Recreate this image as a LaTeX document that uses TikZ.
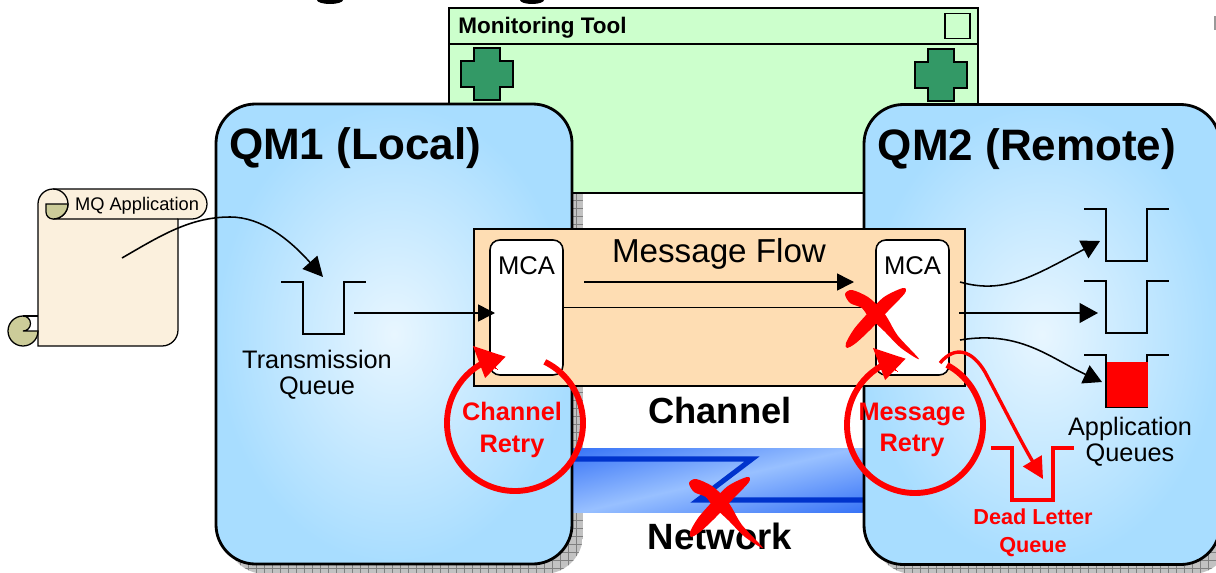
\documentclass[tikz,border=0pt]{standalone}
\usepackage{fontspec}
\setmainfont{Liberation Sans}
\usepackage{tikz}
\usetikzlibrary{arrows.meta}

\definecolor{qmblue}{HTML}{A8DDFF}
\definecolor{qmlight}{HTML}{E8F6FF}
\definecolor{toolgreen}{HTML}{CCFFCC}
\definecolor{crossgreen}{HTML}{339966}
\definecolor{peach}{HTML}{FEDDB3}
\definecolor{scrollfill}{HTML}{FBF0DD}
\definecolor{scrollcurl}{HTML}{CCCC99}
\definecolor{netdark}{HTML}{1F60F5}
\definecolor{netlight}{HTML}{98C0FF}
\definecolor{netline}{HTML}{0033CC}

\begin{document}
\begin{tikzpicture}[x=0.025cm,y=-0.025cm,
    qmbox/.style={rectangle,draw,line width=2pt,rounded corners=28pt,minimum width=356*0.025cm,minimum height=460*0.025cm,inner sep=0pt,inner color=qmlight,outer color=qmblue},
    mcabox/.style={rectangle,draw,line width=1.1pt,fill=white,rounded corners=7pt,minimum width=73*0.025cm,minimum height=135*0.025cm,inner sep=0pt},
    plus/.style={draw,line width=0.8pt,fill=crossgreen},
    queue/.style={draw,line width=1.1pt},
    flow/.style={draw,line width=1.1pt,-{Triangle[length=12pt,width=12pt]}},
    bigflow/.style={draw,line width=1.1pt,-{Triangle[length=13pt,width=14pt]}},
    retry/.style={draw=red,line width=4.2pt},
    retryhead/.style={draw=red,line width=0pt,-{Triangle[length=22pt,width=21pt,fill=red]}},
    label/.style={inner sep=0pt,align=center}]

    \useasboundingbox (0,0) rectangle (1216,572);

    % Title remains
    \fill (330,0) ellipse (13 and 4);
    \fill (532,0) ellipse (12 and 4);
    \fill[black!40] (1214,16) rectangle (1216,30);

    % Shadows
    \foreach \x in {226,874} {
        \begin{scope}
            \clip[rounded corners=28pt] (\x,114) rectangle ++(357,460);
            \fill[black!24] (\x,114) rectangle ++(357,460);
            \draw[black!50,line width=0.4pt,step=0.2cm] (\x,114) grid ++(357,460);
        \end{scope}
    }

    % Monitoring tool
    \node[rectangle,draw,line width=1.8pt,fill=toolgreen,minimum width=529*0.025cm,minimum height=185*0.025cm,inner sep=0pt] (tool) at (713.5,100.5) {};
    \node[rectangle,draw,line width=0.8pt,minimum width=25*0.025cm,minimum height=25*0.025cm,inner sep=0pt] (toolbtn) at (957.5,26) {};
    \coordinate (toolL) at (449,44);
    \coordinate (toolR) at (978,44);
    \draw[line width=1.1pt] (toolL) -- (toolR);
    \node[label,font=\bfseries\fontsize{16}{20}\selectfont] (toolname) at (542.5,28) {Monitoring Tool};
    \foreach \x/\y in {461/48,915/49}
        \draw[plus] (\x+13,\y) -- ++(26,0) -- ++(0,13) -- ++(13,0) -- ++(0,26) -- ++(-13,0) -- ++(0,13) -- ++(-26,0) -- ++(0,-13) -- ++(-13,0) -- ++(0,-26) -- ++(13,0) -- cycle;

    % Network band
    \begin{scope}
        \clip (572,448) rectangle (864,512);
        \shade[transform canvas={rotate around={13:(718,480)}},top color=netdark,bottom color=netdark,middle color=netlight] (318,400) rectangle (1118,560);
    \end{scope}
    \coordinate (netA) at (572,459);
    \coordinate (netB) at (752,459);
    \coordinate (netC) at (698,500);
    \coordinate (netD) at (864,500);
    \draw[netline,line width=3.6pt] (netA) -- (netB) -- (netC) -- (netD);
    \node[label,font=\bfseries\fontsize{26}{30}\selectfont] (network) at (720,536) {Network};

    % Queue managers
    \node[qmbox] (qmL) at (394,334) {};
    \node[qmbox] (qmR) at (1042,334.5) {};
    \node[label,font=\bfseries\fontsize{31.3}{36}\selectfont] (qmLname) at (355,148) {QM1 (Local)};
    \node[label,font=\bfseries\fontsize{31.3}{36}\selectfont] (qmRname) at (1027,149) {QM2 (Remote)};

    % Scroll
    \draw[line width=0.9pt,fill=scrollfill] (53,189) -- (192,189) arc[start angle=-90,end angle=90,radius=15] -- (178,219) -- (178,330) arc[start angle=0,end angle=90,radius=16] -- (38,346) -- (38,204) arc[start angle=180,end angle=270,radius=15] -- cycle;
    \draw[line width=0.9pt] (53,189) arc[start angle=-90,end angle=90,radius=15] -- (178,219);
    \draw[line width=0.9pt,fill=scrollcurl] (68,204) arc[start angle=0,end angle=90,radius=15] arc[start angle=90,end angle=180,radius=7] -- (46,204) -- cycle;
    \draw[line width=0.9pt,fill=scrollcurl] (38,331) arc[start angle=0,end angle=270,radius=15] arc[start angle=-90,end angle=90,radius=7.5] -- cycle;
    \draw[line width=0.9pt] (23,316) -- (38,316);
    \node[label,font=\fontsize{13}{16}\selectfont] (mqapp) at (137,206) {MQ Application};

    % Channel
    \node[rectangle,draw,line width=1.8pt,fill=peach,minimum width=491*0.025cm,minimum height=157*0.025cm,inner sep=0pt] (channel) at (719.5,307.5) {};
    \node[mcabox] (mcaL) at (526.5,307.5) {};
    \node[mcabox] (mcaR) at (912.5,307.5) {};
    \node[label,font=\fontsize{18.2}{22}\selectfont] (mcaLname) at (526.5,266) {MCA};
    \node[label,font=\fontsize{18.2}{22}\selectfont] (mcaRname) at (912.5,266) {MCA};
    \node[label,font=\fontsize{23.6}{28}\selectfont] (flowname) at (719,254) {Message Flow};
    \node[label,font=\bfseries\fontsize{25.8}{30}\selectfont] (chname) at (720,411) {Channel};

    % Queues
    \coordinate (qTx) at (281,282);
    \coordinate (qA) at (1084,209);
    \coordinate (qB) at (1084,281);
    \coordinate (qC) at (1084,355);
    \foreach \q in {qTx,qA,qB,qC}
        \draw[queue] (\q) -- ++(22,0) -- ++(0,52) -- ++(41,0) -- ++(0,-52) -- ++(22,0);
    \node[rectangle,fill=red,minimum width=41*0.025cm,minimum height=45*0.025cm,inner sep=0pt] (qCfill) at (1127.5,384.5) {};
    \node[label,font=\fontsize{18}{18.7}\selectfont] (txname) at (317,375) {Transmission\\Queue};
    \node[label,font=\fontsize{18}{18.7}\selectfont] (appname) at (1130,442) {Application\\Queues};

    % Dead letter queue
    \coordinate (qDead) at (991,448);
    \draw[draw=red,line width=2.4pt] (qDead) -- ++(21,0) -- ++(0,52) -- ++(41,0) -- ++(0,-52) -- ++(21,0);
    \node[label,text=red,font=\bfseries\fontsize{15.4}{20}\selectfont] (deadname) at (1033,533) {Dead Letter\\Queue};

    % Flows
    \coordinate (appStart) at (122,258);
    \coordinate (appTop) at (230,217);
    \coordinate (txIn) at (323,277);
    \coordinate (txOut) at (354,313);
    \coordinate (mcaLin) at (495,313);
    \coordinate (flowA) at (584,282);
    \coordinate (flowB) at (854,282);
    \coordinate (outA) at (960,282);
    \coordinate (inA) at (1100,241);
    \coordinate (outB) at (959,313);
    \coordinate (inB) at (1098,313);
    \coordinate (outC) at (960,340);
    \coordinate (inC) at (1102,382);
    \draw[flow,-{Triangle[length=14pt,width=14pt]}] (appStart) .. controls (160,236) and (190,217) .. (appTop) .. controls (262,217) and (290,240) .. (txIn);
    \draw[flow] (txOut) -- (mcaLin);
    \draw[flow] (flowA) -- (flowB);
    \draw[line width=0.8pt] (mcaL.east) -- (mcaR.west);
    \draw[bigflow] (outA) .. controls (1005,295) and (1035,275) .. (inA);
    \draw[bigflow] (outB) -- (inB);
    \draw[bigflow] (outC) .. controls (1020,330) and (1050,358) .. (inC);

    % Retries
    \coordinate (chCentre) at (515,423);
    \coordinate (msgCentre) at (915,425);
    \draw[retry] (chCentre) ++(-64:68) arc[start angle=-64,end angle=242,radius=68];
    \draw[retry] (msgCentre) ++(-62:68) arc[start angle=-62,end angle=244,radius=68];
    \coordinate (chBase) at (497,369);
    \coordinate (chTip) at (473,346);
    \coordinate (msgBase) at (897,371);
    \coordinate (msgTip) at (873,348);
    \draw[retryhead] (chBase) -- (chTip);
    \draw[retryhead] (msgBase) -- (msgTip);
    \coordinate (deadOut) at (940,363);
    \coordinate (deadIn) at (1043,479);
    \draw[draw=red,line width=2.4pt,-{Triangle[length=15pt,width=15pt,fill=red]}] (deadOut) .. controls (955,345) and (972,350) .. (985,372) .. controls (1000,400) and (1020,440) .. (deadIn);
    \node[label,text=red,font=\bfseries\fontsize{18}{22.5}\selectfont] (chretry) at (512,430) {Channel\\Retry};
    \node[label,text=red,font=\bfseries\fontsize{18}{22.5}\selectfont] (msgretry) at (912,430) {Message\\Retry};

    % Crosses
    \foreach \x/\y in {720/510,876/321}
        \fill[red,shift={(\x*0.025cm,-\y*0.025cm)}]
            plot[smooth cycle,tension=0.5] coordinates {(-31,-27) (-24,-31) (-8,-24) (5,-12) (12,-2) (22,15) (43,38) (25,27) (8,10) (-8,-5) (-14,-13) (-26,-18)}
            plot[smooth cycle,tension=0.5] coordinates {(27,-33) (29,-28) (12,-10) (-5,8) (-20,22) (-29,27) (-30,22) (-22,8) (-8,-8) (8,-24)};
\end{tikzpicture}
\end{document}
